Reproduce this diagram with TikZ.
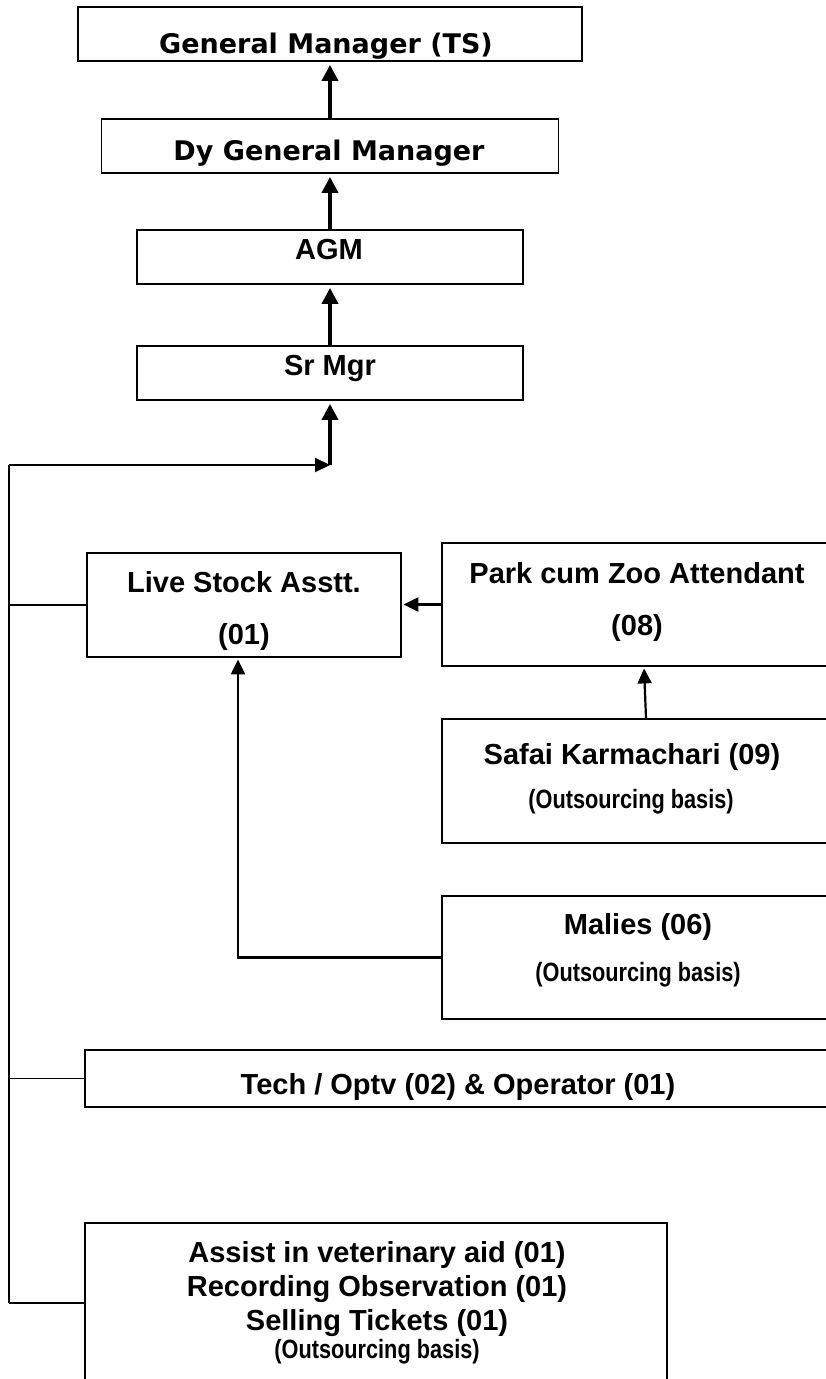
\documentclass[tikz,border=0pt]{standalone}
\usepackage{fontspec}
\setmainfont{Liberation Sans}
\newfontfamily\tahomaf{DejaVu Sans}
\newfontfamily\arialf{Liberation Sans}
\newfontfamily\narrowf{Liberation Sans}[FakeStretch=0.82]
\usetikzlibrary{arrows.meta,calc}
\begin{document}
\begin{tikzpicture}[x=1pt,y=-1pt,
  box/.style={draw,line width=1.8pt,inner sep=0pt,rectangle},
  tah/.style={font=\tahomaf\bfseries\fontsize{27}{31}\selectfont,anchor=base,inner sep=0pt},
  ar/.style={font=\arialf\bfseries\fontsize{29}{34}\selectfont,anchor=base,inner sep=0pt},
  nar/.style={font=\narrowf\bfseries\fontsize{26.5}{30}\selectfont,anchor=base,inner sep=0pt},
  bigarrow/.style={line width=3.6pt,-{Triangle[length=16pt,width=16pt]},shorten >=3pt},
  arrow/.style={line width=2.2pt,-{Triangle[length=15pt,width=14pt]},shorten >=1.5pt},
  link/.style={line width=1.8pt}]
\useasboundingbox (0,0) rectangle (826,1379);
\clip (0,0) rectangle (826,1379);
\fill[white] (0,0) rectangle (826,1379);

% boxes
\node[box,minimum width=504pt,minimum height=54pt] (gm) at (330,34) {};
\node[box,minimum width=457pt,minimum height=54pt] (dgm) at (330,146) {};
\node[box,minimum width=386pt,minimum height=54pt] (agm) at (330,257) {};
\node[box,minimum width=386pt,minimum height=54pt] (srmgr) at (330,373) {};
\node[box,minimum width=314pt,minimum height=104pt] (live) at (244,605) {};
\node[box,minimum width=398pt,minimum height=123pt] (park) at (641,604.5) {};
\node[box,minimum width=398pt,minimum height=124pt] (saf) at (641,781) {};
\node[box,minimum width=398pt,minimum height=123pt] (mal) at (641,957.5) {};
\node[box,minimum width=755pt,minimum height=57pt] (tech) at (462.5,1078.5) {};
\node[box,minimum width=582pt,minimum height=174pt] (bottom) at (376,1310) {};

% texts
\node[tah] (gmT) at (326,53) {General Manager (TS)};
\node[tah] (dgmT) at (329,160) {Dy General Manager};
\node[ar] (agmT) at (329,259) {AGM};
\node[ar] (srT) at (330,375) {Sr Mgr};
\node[ar] (liveT1) at (244,592) {Live Stock Asstt.};
\node[ar] (liveT2) at (244,644) {(01)};
\node[ar] (parkT1) at (637,583) {Park cum Zoo Attendant};
\node[ar] (parkT2) at (637,635) {(08)};
\node[ar] (safT1) at (632,764) {Safai Karmachari (09)};
\node[nar] (safT2) at (631,808) {(Outsourcing basis)};
\node[ar] (malT1) at (638,934) {Malies (06)};
\node[nar] (malT2) at (638,981) {(Outsourcing basis)};
\node[ar] (techT) at (458,1094) {Tech / Optv (02) \& Operator (01)};
\node[ar] (b1) at (377,1262) {Assist in veterinary aid (01)};
\node[ar] (b2) at (377,1296) {Recording Observation (01)};
\node[ar] (b3) at (377,1330) {Selling Tickets (01)};
\node[nar] (b4) at (377,1358) {(Outsourcing basis)};

% connectors
\coordinate (top) at (9,465);
\coordinate (bot) at (9,1303);
\coordinate (junc) at (srmgr.south |- top);
\draw[link] (top) -- (bot);
\draw[arrow,shorten >=0pt] (top) -- (junc);
\draw[bigarrow] (junc) -- (srmgr.south);
\draw[bigarrow] (srmgr.north) -- (agm.south);
\draw[bigarrow] (agm.north) -- (dgm.south);
\draw[bigarrow] (dgm.north) -- (gm.south);
\draw[link] (live.west -| top) -- (live.west);
\draw[arrow] (park.west) -- (park.west -| live.east);
\draw[arrow] ([xshift=5pt]saf.north) -- ([xshift=3pt]park.south);
\draw[arrow] (mal.west) -| ([xshift=-6pt]live.south);
\draw[link] (tech.west -| top) -- (tech.west);
\draw[link] (bot) -- (bot -| bottom.west);
\end{tikzpicture}
\end{document}
